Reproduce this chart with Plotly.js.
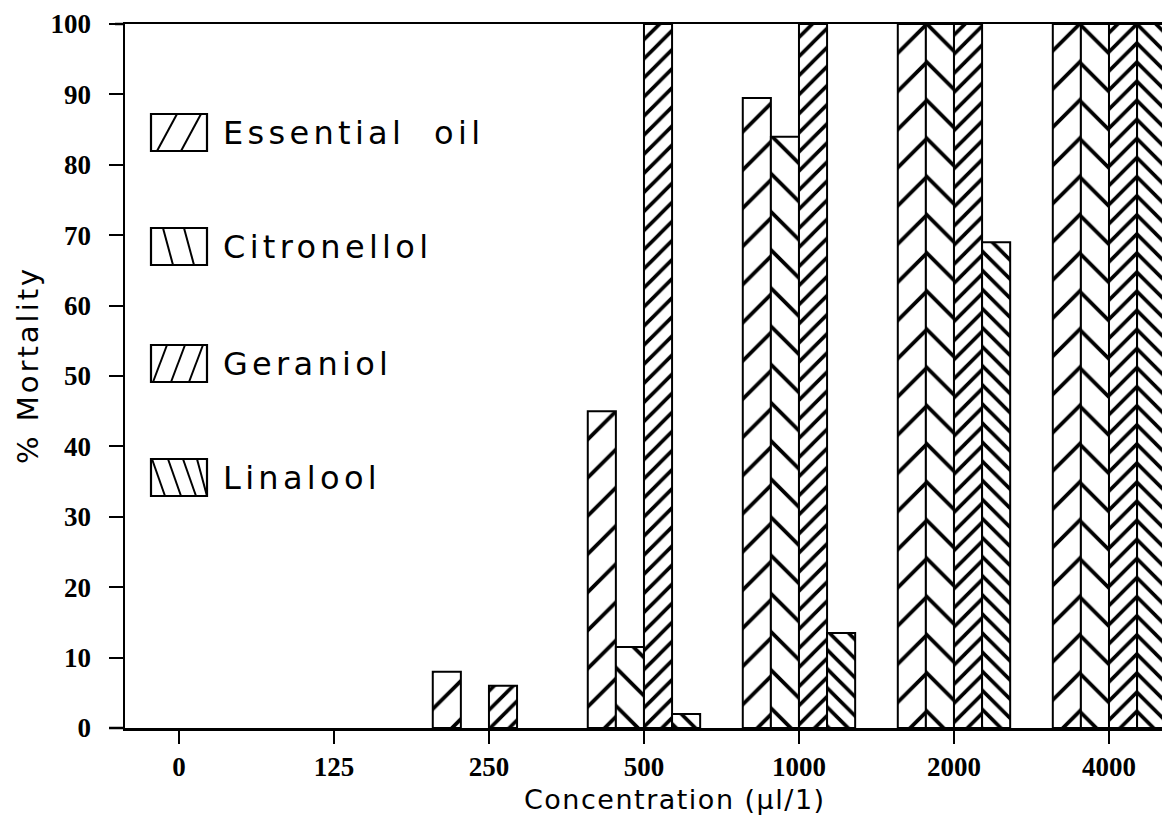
<!DOCTYPE html>
<html><head><meta charset="utf-8">
<script src="https://cdn.plot.ly/plotly-3.0.1.min.js"></script>
<style>html,body{margin:0;padding:0;background:#fff;overflow:hidden}</style>
</head><body><div id="chart" style="width:1162px;height:816px"></div>
<script>
// ---- data ----
const concentrations = ['0', '125', '250', '500', '1000', '2000', '4000'];
const essentialOil = [0, 0, 8, 45, 89.5, 100, 100];
const citronellol  = [0, 0, 0, 11.5, 84, 100, 100];
const geraniol     = [0, 0, 6, 100, 100, 100, 100];
const linalool     = [0, 0, 0, 2, 13.5, 69, 100];
const seriesNames  = ['Essential\u00a0\u00a0oil', 'Citronellol', 'Geraniol', 'Linalool'];
const yTickValues  = [0, 10, 20, 30, 40, 50, 60, 70, 80, 90, 100];

// ---- styles ----
const W = 1162, H = 816, ML = 125, MT = 24, MB = 88;
const PW = W - ML, PH = H - MT - MB;
const px = v => (v - ML) / PW;
const py = v => (H - MB - v) / PH;

const patterns = [
  {shape: '/',  size: 27,   solidity: 0.14},
  {shape: '\\', size: 27,   solidity: 0.14},
  {shape: '/',  size: 13.5, solidity: 0.27},
  {shape: '\\', size: 13.5, solidity: 0.27}
];
const allSeries = [essentialOil, citronellol, geraniol, linalool];

const traces = allSeries.map((vals, i) => ({
  type: 'bar',
  x: concentrations,
  y: vals,
  name: seriesNames[i].replace(/\u00a0+/g, ' '),
  showlegend: false,
  marker: {
    color: 'white',
    line: {color: 'black', width: vals.map(v => v > 0 ? 2 : 0)},
    pattern: Object.assign({fgcolor: 'black', bgcolor: 'white', fillmode: 'replace'}, patterns[i])
  },
  hoverinfo: 'x+y+name'
}));

// legend drawn as shapes (box + hatch strokes) and text annotations
const legendTops = [114, 228, 345, 459];
const boxL = 151, boxR = 207, boxH = 37;
const hatch = [
  {dir: 1,  lines: [[6, 26], [30, 50]]},
  {dir: -1, lines: [[12, 22], [33, 43]]},
  {dir: 1,  lines: [[2, 16], [20, 34], [38, 52]]},
  {dir: -1, lines: [[1, 14], [17, 30], [32, 45], [46, 56]]}
];
const shapes = [];
const annotations = [];
legendTops.forEach((top, i) => {
  const bot = top + boxH;
  shapes.push({type: 'rect', xref: 'paper', yref: 'paper',
    x0: px(boxL), x1: px(boxR), y0: py(bot), y1: py(top),
    line: {color: 'black', width: 2.2}, fillcolor: 'white'});
  hatch[i].lines.forEach(([a, b]) => {
    const xa = boxL + a, xb = boxL + Math.min(b, boxR - boxL);
    let p;
    if (hatch[i].dir === 1) p = [[xa, bot], [xb, top]];
    else p = [[xa, top], [xb, bot]];
    shapes.push({type: 'line', xref: 'paper', yref: 'paper',
      x0: px(p[0][0]), y0: py(p[0][1]), x1: px(p[1][0]), y1: py(p[1][1]),
      line: {color: 'black', width: 2}});
  });
  annotations.push({xref: 'paper', yref: 'paper', x: px(221), y: py(top + boxH / 2),
    xanchor: 'left', yanchor: 'middle', showarrow: false,
    text: '<span style="letter-spacing:4.3px">' + seriesNames[i] + '</span>',
    font: {family: 'DejaVu Sans', size: 32, color: 'black'}});
});

// axis line extensions beyond the corner
shapes.push({type: 'line', xref: 'paper', yref: 'paper', x0: px(109), x1: 0, y0: 0, y1: 0,
  line: {color: 'black', width: 2.5}});
shapes.push({type: 'line', xref: 'paper', yref: 'paper', x0: px(115), x1: 0, y0: 1, y1: 1,
  line: {color: 'black', width: 2.5}});

// axis titles
annotations.push({xref: 'paper', yref: 'paper', x: px(675), y: py(799),
  xanchor: 'center', yanchor: 'middle', showarrow: false,
  text: '<span style="letter-spacing:1.5px">Concentration (\u00b5l/1)</span>',
  font: {family: 'DejaVu Sans', size: 27, color: 'black'}});
annotations.push({xref: 'paper', yref: 'paper', x: px(28), y: py(365),
  xanchor: 'center', yanchor: 'middle', showarrow: false, textangle: -90,
  text: '<span style="letter-spacing:3px">% Mortality</span>',
  font: {family: 'DejaVu Sans', size: 29, color: 'black'}});

const tickFont = {family: 'Liberation Serif', size: 27, color: 'black', weight: 'bold'};

const layout = {
  width: W, height: H,
  margin: {l: ML, r: 0, t: MT, b: MB, pad: 0},
  paper_bgcolor: 'white', plot_bgcolor: 'white',
  barmode: 'group', bargap: 0.275, bargroupgap: 0,
  xaxis: {
    type: 'category', range: [-0.348, 6.342], fixedrange: true,
    showline: true, linecolor: 'black', linewidth: 2.5, mirror: true,
    ticks: 'outside', ticklen: 13, tickwidth: 2, tickcolor: 'black',
    showgrid: false, zeroline: false,
    tickfont: tickFont, ticklabelstandoff: 0
  },
  yaxis: {
    range: [0, 100], fixedrange: true,
    tickvals: yTickValues, ticktext: yTickValues.map(String),
    showline: true, linecolor: 'black', linewidth: 2.5,
    ticks: 'outside', ticklen: 14, tickwidth: 2, tickcolor: 'black',
    showgrid: false, zeroline: false,
    tickfont: tickFont, ticklabelstandoff: 12
  },
  shapes: shapes,
  annotations: annotations,
  showlegend: false
};

Plotly.newPlot('chart', traces, layout, {displayModeBar: false, staticPlot: true});
</script>
</body></html>
